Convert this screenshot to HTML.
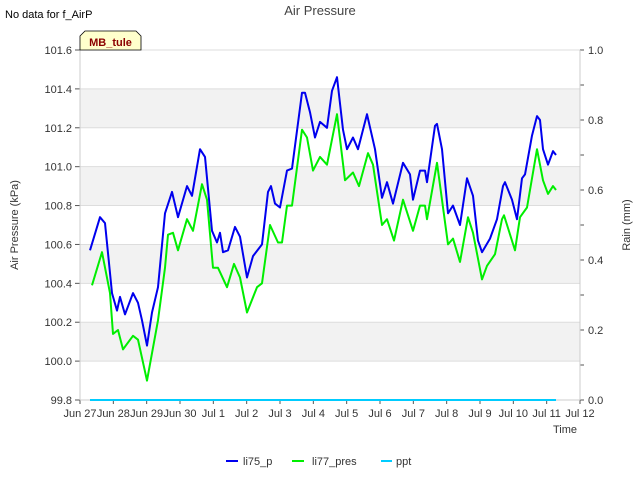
<!DOCTYPE html>
<html><head><meta charset="utf-8"><style>
body{margin:0;background:#fff;}
svg{font-family:"Liberation Sans",sans-serif;display:block}
</style></head><body>
<svg id="chart" width="640" height="480" viewBox="0 0 640 480">
<text x="5" y="18" font-size="11" fill="#000">No data for f_AirP</text>
<text x="320" y="15" font-size="13" fill="#444" text-anchor="middle">Air Pressure</text>
<g id="bands"></g>
<g id="axes"></g>
<g id="series"></g>
<g>
<path d="M80,50 L80,36 L85,31 L136,31 L141,36 L141,50 Z" fill="#ffffcc" stroke="#000" stroke-width="0.8"/>
<text x="110.5" y="46" font-size="11" font-weight="bold" fill="#8b0000" text-anchor="middle">MB_tule</text>
</g>
<text transform="translate(18,225) rotate(-90)" font-size="11" fill="#333" text-anchor="middle">Air Pressure (kPa)</text>
<text transform="translate(630,225) rotate(-90)" font-size="11" fill="#333" text-anchor="middle">Rain (mm)</text>
<text x="565" y="433" font-size="11" fill="#333" text-anchor="middle">Time</text>
<g>
<g><line x1="226" y1="461" x2="238" y2="461" stroke="#0000ee" stroke-width="2"/><text x="243" y="465" font-size="11" fill="#333">li75_p</text></g>
<g><line x1="292" y1="461" x2="304" y2="461" stroke="#00ee00" stroke-width="2"/><text x="312" y="465" font-size="11" fill="#333">li77_pres</text></g>
<g><line x1="381" y1="461" x2="392" y2="461" stroke="#00ccff" stroke-width="2"/><text x="396" y="465" font-size="11" fill="#333">ppt</text></g>
</g>
</svg>
<script>
const xTickLabels=["Jun 27","Jun 28","Jun 29","Jun 30","Jul 1","Jul 2","Jul 3","Jul 4","Jul 5","Jul 6","Jul 7","Jul 8","Jul 9","Jul 10","Jul 11","Jul 12"];
const yTicks=[99.8,100.0,100.2,100.4,100.6,100.8,101.0,101.2,101.4,101.6];
const y2Ticks=[0.0,0.2,0.4,0.6,0.8,1.0];
const blueT=[0.30,0.60,0.75,0.96,1.11,1.20,1.35,1.59,1.74,1.86,2.01,2.16,2.34,2.55,2.76,2.94,3.21,3.36,3.60,3.75,3.96,4.11,4.20,4.29,4.44,4.65,4.80,5.01,5.19,5.46,5.64,5.73,5.85,6.00,6.21,6.36,6.66,6.75,6.90,7.05,7.20,7.41,7.56,7.71,7.89,8.01,8.19,8.34,8.61,8.85,9.06,9.21,9.39,9.69,9.90,9.99,10.20,10.35,10.41,10.65,10.71,10.86,11.04,11.19,11.40,11.61,11.79,11.94,12.06,12.30,12.51,12.69,12.75,12.96,13.11,13.26,13.35,13.56,13.71,13.80,13.89,14.04,14.19,14.28];
const blueV=[100.57,100.74,100.71,100.35,100.26,100.33,100.24,100.35,100.30,100.21,100.08,100.25,100.38,100.76,100.87,100.74,100.90,100.85,101.09,101.05,100.67,100.61,100.66,100.56,100.57,100.69,100.64,100.43,100.54,100.60,100.87,100.90,100.81,100.79,100.98,100.99,101.38,101.38,101.28,101.15,101.23,101.20,101.39,101.46,101.19,101.09,101.15,101.09,101.27,101.09,100.84,100.92,100.81,101.02,100.96,100.83,100.98,100.98,100.92,101.21,101.22,101.09,100.76,100.80,100.70,100.94,100.85,100.62,100.56,100.63,100.73,100.90,100.92,100.83,100.73,100.94,100.96,101.16,101.26,101.24,101.09,101.01,101.08,101.06];
const greenT=[0.36,0.66,0.90,0.99,1.14,1.29,1.59,1.74,2.01,2.34,2.55,2.64,2.79,2.94,3.21,3.39,3.66,3.81,3.99,4.14,4.41,4.62,4.80,5.01,5.31,5.46,5.70,5.94,6.06,6.21,6.36,6.66,6.81,6.99,7.20,7.41,7.71,7.95,8.19,8.37,8.64,8.79,9.06,9.21,9.42,9.69,9.99,10.20,10.35,10.41,10.71,11.04,11.19,11.40,11.64,11.79,12.06,12.21,12.45,12.66,12.72,13.05,13.20,13.41,13.71,13.89,14.04,14.19,14.28];
const greenV=[100.39,100.56,100.35,100.14,100.16,100.06,100.13,100.11,99.90,100.21,100.48,100.65,100.66,100.57,100.73,100.67,100.91,100.83,100.48,100.48,100.38,100.50,100.43,100.25,100.38,100.40,100.70,100.61,100.61,100.80,100.80,101.19,101.15,100.98,101.05,101.01,101.27,100.93,100.97,100.90,101.07,101.01,100.70,100.73,100.62,100.83,100.67,100.80,100.80,100.73,101.02,100.60,100.63,100.51,100.74,100.66,100.42,100.49,100.55,100.73,100.75,100.57,100.74,100.79,101.09,100.93,100.86,100.90,100.88];
const pptT=[0.30,14.28];
const pptV=[0,0];

const X0=80,X1=580,Y0=50,Y1=400;
const xs=d=>X0+d*(X1-X0)/15;
const ys=v=>Y1-(v-99.8)*(Y1-Y0)/1.8;
const y2s=v=>Y1-v*(Y1-Y0)/1.0;
const NS="http://www.w3.org/2000/svg";
function mk(tag,attrs,parent){const e=document.createElementNS(NS,tag);for(const k in attrs)e.setAttribute(k,attrs[k]);parent.appendChild(e);return e;}
const bands=document.getElementById('bands'),axes=document.getElementById('axes'),series=document.getElementById('series');
for(let i=0;i<yTicks.length-1;i++){
  const r=mk('rect',{x:X0,y:ys(yTicks[i+1]),width:X1-X0,height:ys(yTicks[i])-ys(yTicks[i+1]),fill:(i%2===1)?'#f2f2f2':'#ffffff'},bands);
  
  
}
yTicks.forEach(v=>{
  const g=mk('line',{x1:X0,x2:X1,y1:ys(v),y2:ys(v),stroke:'#dddddd','stroke-width':1},axes);
  
  
  mk('line',{x1:X0-5,x2:X0,y1:ys(v),y2:ys(v),stroke:'#555'},axes);
  const t=mk('text',{x:X0-8,y:ys(v)+4,'font-size':11,fill:'#333','text-anchor':'end'},axes);
  t.textContent=v.toFixed(1);
  
  
});
for(let k=0;k<=10;k++){mk('line',{x1:X1,x2:X1+4,y1:y2s(k/10),y2:y2s(k/10),stroke:'#555'},axes);}
y2Ticks.forEach(v=>{
  const t=mk('text',{x:X1+8,y:y2s(v)+4,'font-size':11,fill:'#333'},axes);
  t.textContent=v.toFixed(1);
  
  
});
xTickLabels.forEach((s,i)=>{
  mk('line',{x1:xs(i),x2:xs(i),y1:Y1,y2:Y1+4,stroke:'#555'},axes);
  const t=mk('text',{x:xs(i),y:Y1+17,'font-size':11,fill:'#333','text-anchor':'middle'},axes);
  t.textContent=s;
  
  
});
mk('line',{x1:X0,x2:X0,y1:Y0,y2:Y1,stroke:'#cccccc'},axes);
mk('line',{x1:X1,x2:X1,y1:Y0,y2:Y1,stroke:'#cccccc'},axes);
mk('line',{x1:X0,x2:X1,y1:Y1,y2:Y1,stroke:'#cccccc'},axes);
function line(T,V,sc,color,name){
  const p=mk('polyline',{points:T.map((t,i)=>xs(t).toFixed(1)+','+sc(V[i]).toFixed(1)).join(' '),fill:'none',stroke:color,'stroke-width':2,'stroke-linejoin':'round'},series);
  
  
}
line(pptT,pptV,y2s,'#00ccff','ppt-line');
line(greenT,greenV,ys,'#00ee00','li77-pres-line');
line(blueT,blueV,ys,'#0000ee','li75-p-line');
</script>
</body></html>
